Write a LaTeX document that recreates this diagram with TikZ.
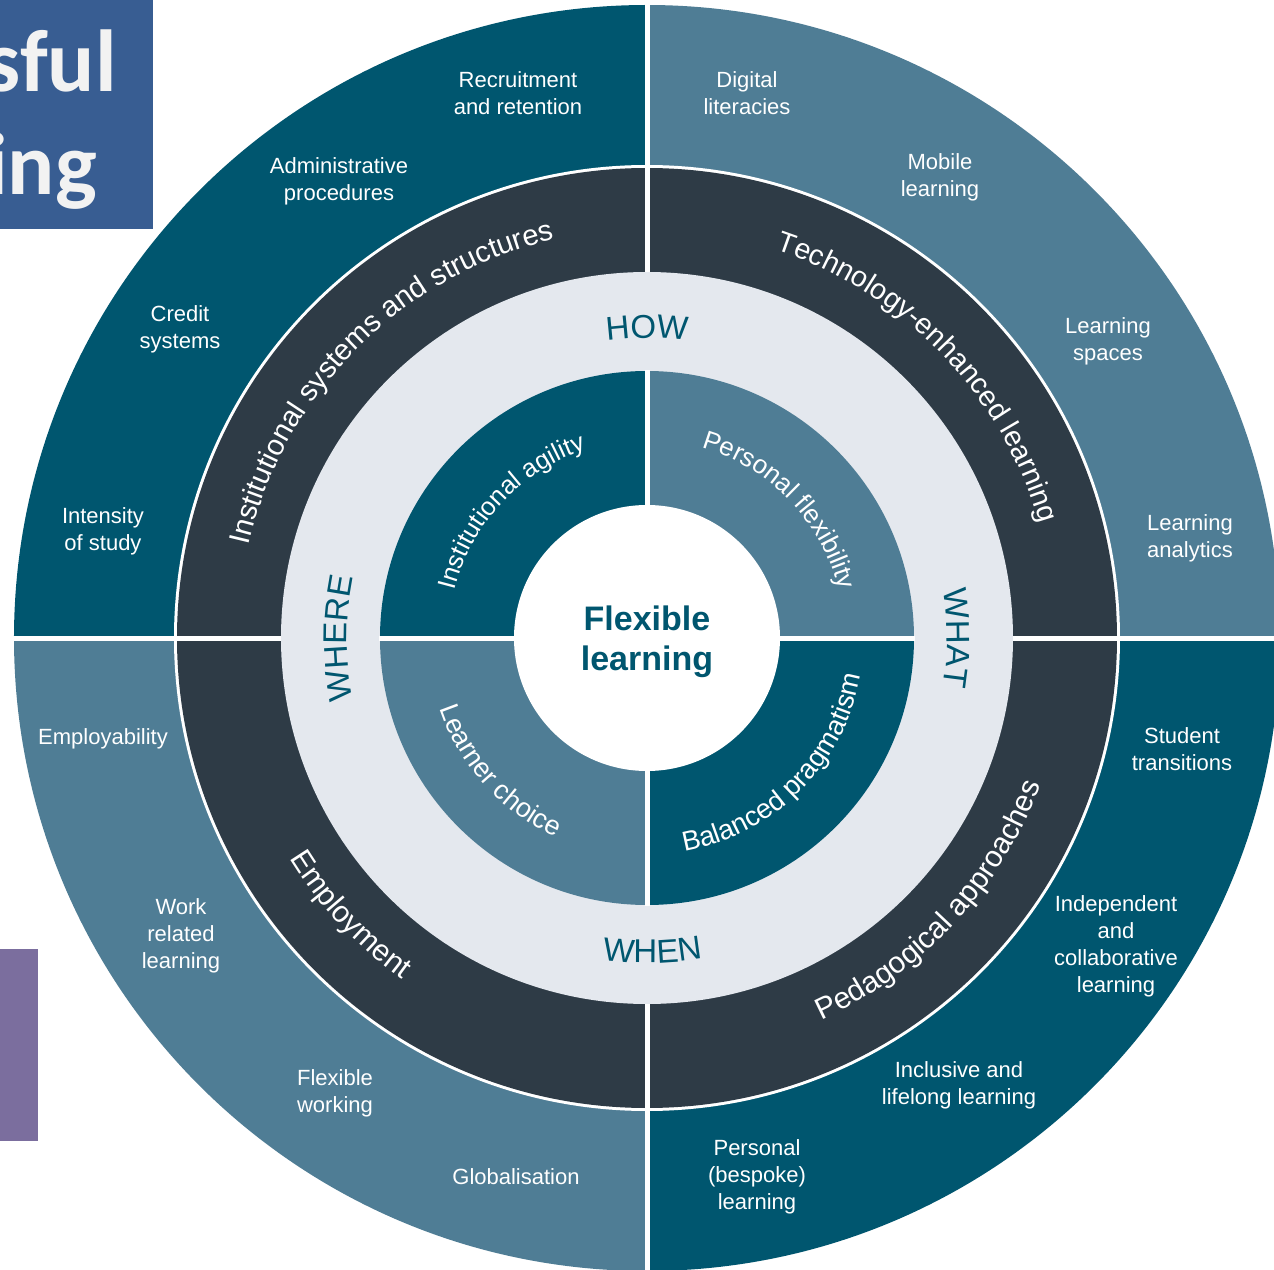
\documentclass[tikz,border=0pt]{standalone}
\usepackage{fontspec}
\setmainfont{Liberation Sans}
\newfontfamily\calibrifont{Carlito}
\usetikzlibrary{decorations.text}
\definecolor{tealA}{HTML}{00566F}
\definecolor{slateA}{HTML}{4F7D95}
\definecolor{darkring}{HTML}{2E3B46}
\definecolor{lightring}{HTML}{E4E8EE}
\definecolor{titleblue}{HTML}{385D92}
\definecolor{purplebar}{HTML}{7B6E9E}
\begin{document}
\begin{tikzpicture}[x=1pt,y=1pt,
  outerlabel/.style={text=white, align=center, font=\fontsize{22}{27}\selectfont, inner sep=0pt},
  sepline/.style={white, line width=5pt},
  arctext/.style n args={3}{decorate, decoration={text along path, text align=center, text color=#3,
      text={|\fontsize{#1}{#1}\selectfont|#2}}},
  ringtext/.style 2 args={arctext={#1}{#2}{white}},
  wordtext/.style={arctext={33}{#1}{tealA}},
  centertext/.style={text=tealA, font=\bfseries\fontsize{34}{40}\selectfont, inner sep=0pt, anchor=base},
  titletext/.style={text=white!95!black, font=\calibrifont\bfseries\fontsize{88}{88}\selectfont, inner sep=0pt, anchor=base east}
]
\clip (-647,-631) rectangle (627,638);
\fill[white] (-647,-631) rectangle (627,638);
% slide remnants
\fill[titleblue] (-647,638) rectangle (-494,409);
\node[titletext] (t1) at (-530,546) {sful};
\node[titletext] (t2) at (-550,443) {ing};
\fill[purplebar] (-647,-311) rectangle (-609,-503);
% outer quadrants
\fill[tealA]  (0,0) -- (90:633) arc[start angle=90, end angle=180, radius=633] -- cycle;
\fill[slateA] (0,0) -- (0:633) arc[start angle=0, end angle=90, radius=633] -- cycle;
\fill[tealA]  (0,0) -- (270:633) arc[start angle=270, end angle=360, radius=633] -- cycle;
\fill[slateA] (0,0) -- (180:633) arc[start angle=180, end angle=270, radius=633] -- cycle;
% rings
\fill[white] (0,0) circle[radius=473];
\fill[darkring] (0,0) circle[radius=470];
\fill[lightring] (0,0) circle[radius=366];
% inner quadrants
\fill[tealA]  (0,0) -- (90:267) arc[start angle=90, end angle=180, radius=267] -- cycle;
\fill[slateA] (0,0) -- (0:267) arc[start angle=0, end angle=90, radius=267] -- cycle;
\fill[tealA]  (0,0) -- (270:267) arc[start angle=270, end angle=360, radius=267] -- cycle;
\fill[slateA] (0,0) -- (180:267) arc[start angle=180, end angle=270, radius=267] -- cycle;
\fill[white] (0,0) circle[radius=133];
% separators
\draw[sepline] (0,366) -- (0,640);
\draw[sepline] (0,-366) -- (0,-640);
\draw[sepline] (-366,0) -- (-640,0);
\draw[sepline] (366,0) -- (640,0);
\draw[sepline] (0,130) -- (0,268);
\draw[sepline] (0,-130) -- (0,-268);
\draw[sepline] (-130,0) -- (-268,0);
\draw[sepline] (130,0) -- (268,0);
% dark ring texts
\path[ringtext={29.2}{Institutional systems and structures}] (180:409) arc[start angle=180, end angle=90, radius=409];
\path[ringtext={28.8}{Technology-enhanced learning}] (89:409) arc[start angle=89, end angle=-1, radius=409];
\path[ringtext={30}{Pedagogical approaches}] (-88:420) arc[start angle=-88, end angle=2, radius=420];
\path[ringtext={30}{Employment}] (178:420) arc[start angle=178, end angle=268, radius=420];
% light ring words
\path[wordtext={HOW}] (130:300) arc[start angle=130, end angle=50, radius=300];
\path[wordtext={WHAT}] (40:300) arc[start angle=40, end angle=-40, radius=300];
\path[wordtext={WHERE}] (220:300) arc[start angle=220, end angle=140, radius=300];
\path[wordtext={WHEN}] (231:325) arc[start angle=231, end angle=311, radius=325];
% inner ring texts
\path[ringtext={25.5}{Institutional agility}] (187:198) arc[start angle=187, end angle=87, radius=198];
\path[ringtext={26}{Personal flexibility}] (94:198) arc[start angle=94, end angle=-6, radius=198];
\path[ringtext={27.5}{Balanced pragmatism}] (-100:217) arc[start angle=-100, end angle=10, radius=217];
\path[ringtext={27}{Learner choice}] (170:219) arc[start angle=170, end angle=274, radius=219];
% centre
\node[centertext] (c1) at (0,8) {Flexible};
\node[centertext] (c2) at (0,-32) {learning};
% outer labels
\node[outerlabel] (o1) at (-129,545) {Recruitment\\and retention};
\node[outerlabel] (o2) at (-308,457) {Administrative\\procedures};
\node[outerlabel] (o3) at (-467,309) {Credit\\systems};
\node[outerlabel] (o4) at (-544,107) {Intensity\\of study};
\node[outerlabel] (o5) at (100,545) {Digital\\literacies};
\node[outerlabel] (o6) at (293,461) {Mobile\\learning};
\node[outerlabel] (o7) at (461,297) {Learning\\spaces};
\node[outerlabel] (o8) at (543,100) {Learning\\analytics};
\node[outerlabel] (o9) at (535,-111) {Student\\transitions};
\node[outerlabel] (o10) at (469,-308) {Independent\\and\\collaborative\\learning};
\node[outerlabel] (o11) at (312,-447) {Inclusive and\\lifelong learning};
\node[outerlabel] (o12) at (110,-539) {Personal\\(bespoke)\\learning};
\node[outerlabel] (o13) at (-544,-101) {Employability};
\node[outerlabel] (o14) at (-466,-298) {Work\\related\\learning};
\node[outerlabel] (o15) at (-312,-455) {Flexible\\working};
\node[outerlabel] (o16) at (-131,-539) {Globalisation};
\end{tikzpicture}
\end{document}
